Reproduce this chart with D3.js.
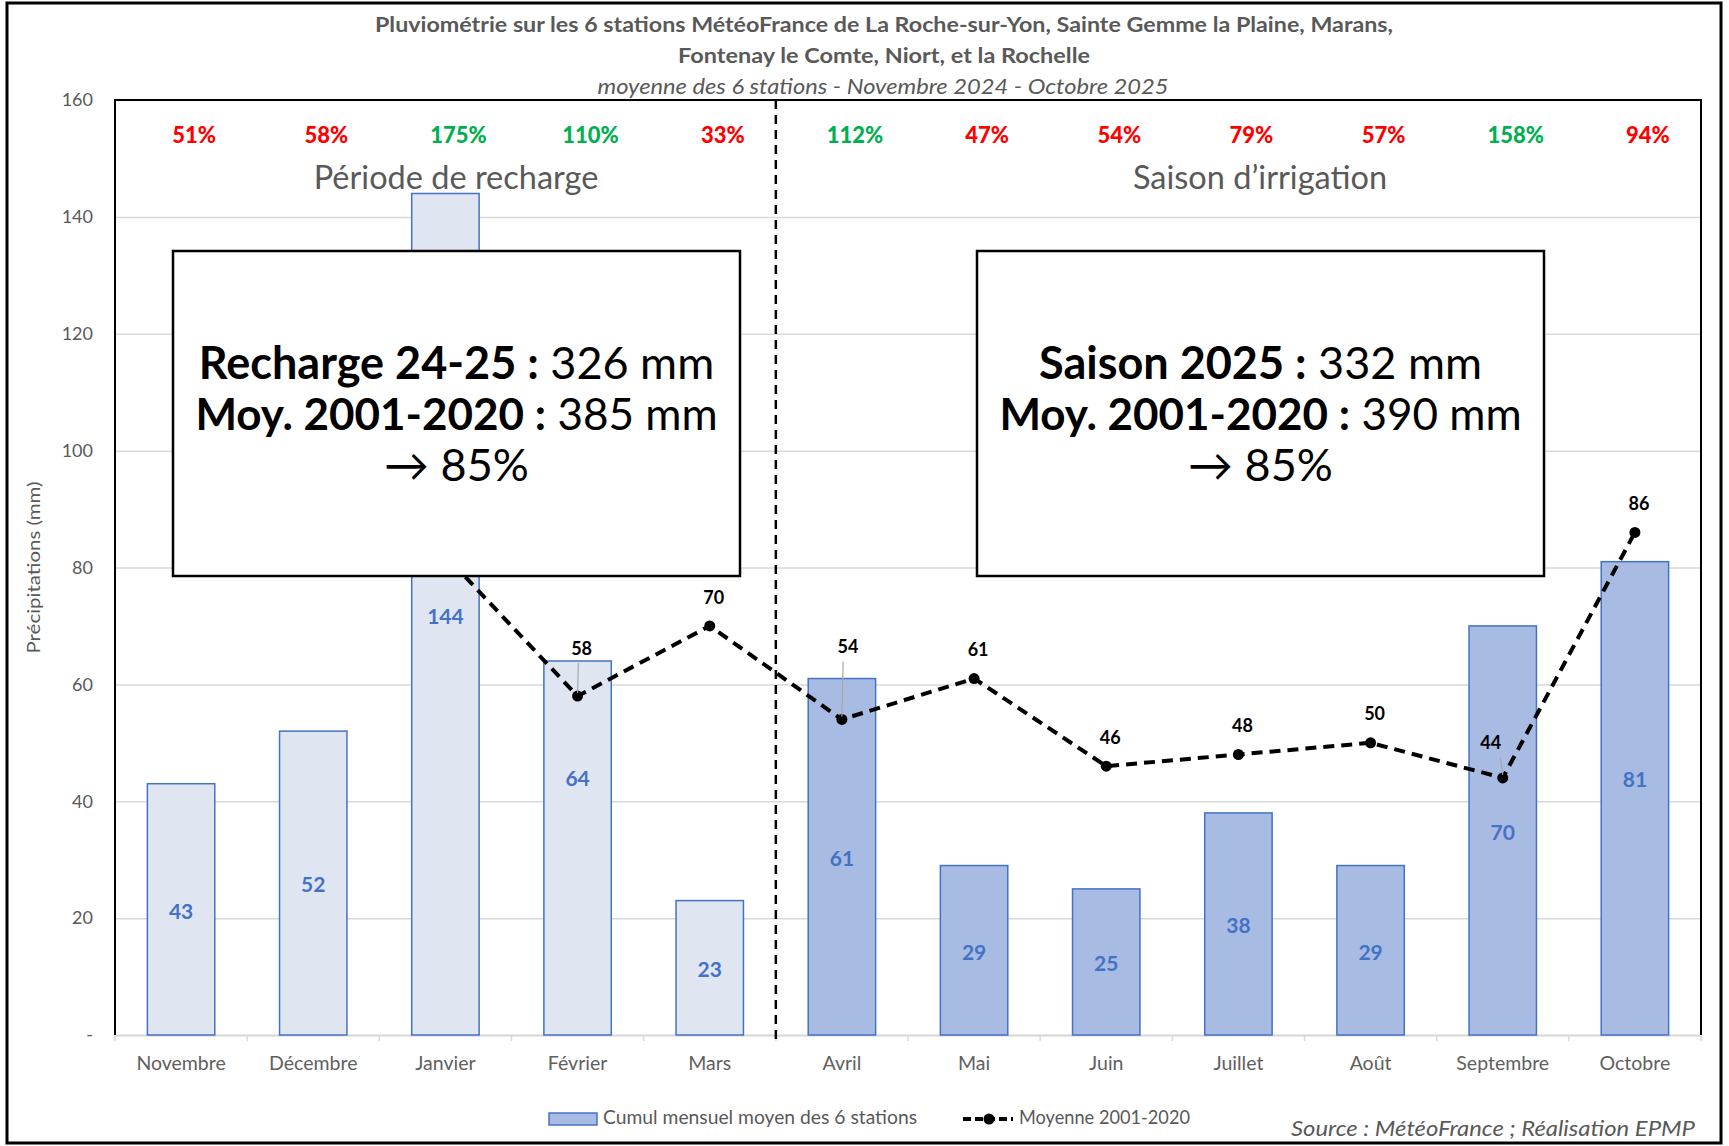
<!DOCTYPE html>
<html>
<head>
<meta charset="utf-8">
<script src="https://cdn.jsdelivr.net/npm/d3@7"></script>
<style>
  body { margin: 0; background: #fff; }
  text { font-family: Lato, 'Open Sans', sans-serif; }
</style>
</head>
<body>
<div id="chart"></div>
<script>
// data
const months = ['Novembre', 'Décembre', 'Janvier', 'Février', 'Mars', 'Avril',
  'Mai', 'Juin', 'Juillet', 'Août', 'Septembre', 'Octobre']
const cumul = [43, 52, 144, 64, 23, 61, 29, 25, 38, 29, 70, 81]
const moyenne = [84, 90, 82, 58, 70, 54, 61, 46, 48, 50, 44, 86]
const percents = ['51%', '58%', '175%', '110%', '33%', '112%', '47%', '54%', '79%', '57%', '158%', '94%']
const rechargeMonths = ['Novembre', 'Décembre', 'Janvier', 'Février', 'Mars']
const yTicks = [0, 20, 40, 60, 80, 100, 120, 140, 160]

const margin = { top: 100, right: 28, bottom: 111, left: 115 }
const width = 1729 - margin.left - margin.right
const height = 1146 - margin.top - margin.bottom

const root = d3
  .select('#chart')
  .append('svg')
  .attr('width', 1729)
  .attr('height', 1146)

// outer frame
root.append('rect')
  .attr('x', 7).attr('y', 3).attr('width', 1714).attr('height', 1140)
  .attr('fill', 'none').attr('stroke', '#000').attr('stroke-width', 3)

const svg = root.append('g')
  .attr('transform', `translate(${margin.left},${margin.top})`)

const xPositionScale = d3.scaleBand().domain(months).range([0, width])
const yPositionScale = d3.scaleLinear().domain([0, 160]).range([height, 0])

const barWidth = xPositionScale.bandwidth() * 0.51
const cx = m => xPositionScale(m) + xPositionScale.bandwidth() / 2

// gridlines + y labels
const yAxis = d3.axisLeft(yPositionScale)
  .tickValues(yTicks)
  .tickSize(-width)
  .tickPadding(22)
  .tickFormat(d => d === 0 ? '-' : d)

svg.append('g')
  .attr('class', 'y-axis')
  .call(yAxis)
  .call(g => g.select('.domain').remove())
  .call(g => g.selectAll('line').attr('stroke', '#d9d9d9').attr('stroke-width', 1.5))
  .call(g => g.selectAll('text')
    .attr('fill', '#595959')
    .attr('font-size', 18))

svg.append('text')
  .attr('transform', `translate(${36 - margin.left},${height / 2}) rotate(-90)`)
  .attr('text-anchor', 'middle')
  .attr('dominant-baseline', 'middle')
  .attr('fill', '#595959')
  .attr('font-size', 17)
  .attr('textLength', 172)
  .attr('lengthAdjust', 'spacingAndGlyphs')
  .text('Précipitations (mm)')

// x axis
const xAxis = d3.axisBottom(xPositionScale).tickSize(0).tickPadding(21)
svg.append('g')
  .attr('transform', `translate(0,${height})`)
  .call(xAxis)
  .call(g => g.select('.domain').attr('stroke', '#d9d9d9').attr('stroke-width', 2))
  .call(g => g.selectAll('text').attr('fill', '#606060').attr('font-size', 19.5))

svg.append('g')
  .selectAll('line')
  .data(d3.range(months.length + 1))
  .enter()
  .append('line')
  .attr('x1', i => i * xPositionScale.step())
  .attr('x2', i => i * xPositionScale.step())
  .attr('y1', height)
  .attr('y2', height + 6)
  .attr('stroke', '#d9d9d9')
  .attr('stroke-width', 1.5)

// plot border (left, top, right)
svg.append('path')
  .attr('d', `M0,${height}V0H${width}V${height}`)
  .attr('fill', 'none')
  .attr('stroke', '#000')
  .attr('stroke-width', 2)

// bars
const isRecharge = m => rechargeMonths.includes(m)
svg.append('g')
  .selectAll('rect')
  .data(months)
  .enter()
  .append('rect')
  .attr('x', m => cx(m) - barWidth / 2)
  .attr('width', barWidth)
  .attr('y', (m, i) => yPositionScale(cumul[i]))
  .attr('height', (m, i) => height - yPositionScale(cumul[i]))
  .attr('fill', m => isRecharge(m) ? '#dfe6f2' : '#a8bbe3')
  .attr('stroke', '#4472c4')
  .attr('stroke-width', 1.5)

// bar labels sit mid-bar, two were moved off the line
const barNudge = { 'Février': -71, 'Octobre': -21 }
svg.append('g')
  .selectAll('text')
  .data(months)
  .enter()
  .append('text')
  .attr('x', m => cx(m))
  .attr('y', (m, i) => (yPositionScale(cumul[i]) + height) / 2 + 4 + (barNudge[m] || 0))
  .attr('text-anchor', 'middle')
  .attr('dominant-baseline', 'middle')
  .attr('fill', '#4472c4')
  .attr('font-size', 21)
  .attr('font-weight', 'bold')
  .text((m, i) => cumul[i])

// separator
svg.append('line')
  .attr('x1', 5 * xPositionScale.step()).attr('x2', 5 * xPositionScale.step())
  .attr('y1', 0).attr('y2', height + 6)
  .attr('stroke', '#000').attr('stroke-width', 2.5)
  .attr('stroke-dasharray', '9,6')

// average line
const line = d3.line()
  .x((d, i) => cx(months[i]))
  .y(d => yPositionScale(d))

svg.append('path')
  .datum(moyenne)
  .attr('d', line)
  .attr('fill', 'none')
  .attr('stroke', '#000')
  .attr('stroke-width', 4)
  .attr('stroke-dasharray', '11,7')

svg.append('g')
  .selectAll('circle')
  .data(moyenne)
  .enter()
  .append('circle')
  .attr('cx', (d, i) => cx(months[i]))
  .attr('cy', d => yPositionScale(d))
  .attr('r', 5.5)
  .attr('fill', '#000')

// label nudges (dx, dy from point), leader line when moved far
const nudge = { 'Février': [4, -46], 'Avril': [6, -71], 'Septembre': [-12, -33] }
const lbl = svg.append('g')
moyenne.forEach((d, i) => {
  const m = months[i]
  const px = cx(m)
  const py = yPositionScale(d)
  const [dx, dy] = nudge[m] || [4, -27]
  if (nudge[m]) {
    lbl.append('line')
      .attr('x1', px + dx * 0.2).attr('y1', py + dy + 13)
      .attr('x2', px).attr('y2', py - 3)
      .attr('stroke', '#a6a6a6').attr('stroke-width', 1.2)
  }
  lbl.append('text')
    .attr('x', px + dx)
    .attr('y', py + dy)
    .attr('text-anchor', 'middle')
    .attr('dominant-baseline', 'middle')
    .attr('font-size', 18)
    .attr('font-weight', 'bold')
    .attr('fill', '#000')
    .text(d)
})

// percentage row
svg.append('g')
  .selectAll('text')
  .data(months)
  .enter()
  .append('text')
  .attr('x', m => cx(m) + 13)
  .attr('y', 37)
  .attr('text-anchor', 'middle')
  .attr('dominant-baseline', 'middle')
  .attr('font-size', 22)
  .attr('font-weight', 900)
  .attr('fill', (m, i) => parseInt(percents[i]) >= 100 ? '#00b050' : '#ff0000')
  .text((m, i) => percents[i])

svg.append('text')
  .attr('x', 341).attr('y', 81)
  .attr('text-anchor', 'middle').attr('dominant-baseline', 'middle')
  .attr('font-size', 32.5).attr('fill', '#595959')
  .text('Période de recharge')

svg.append('text')
  .attr('x', 1145).attr('y', 81)
  .attr('text-anchor', 'middle').attr('dominant-baseline', 'middle')
  .attr('font-size', 32.5).attr('fill', '#595959')
  .text('Saison d’irrigation')

// summary boxes
function summaryBox(x0, x1, head, val, avg) {
  const g = svg.append('g')
  g.append('rect')
    .attr('x', x0).attr('y', 151)
    .attr('width', x1 - x0).attr('height', 325)
    .attr('fill', '#fff').attr('stroke', '#000').attr('stroke-width', 2.5)
  const mid = (x0 + x1) / 2
  const t1 = g.append('text').attr('x', mid).attr('y', 279)
    .attr('text-anchor', 'middle').attr('font-size', 45).attr('fill', '#000')
  t1.append('tspan').attr('font-weight', 'bold').text(head + ' :')
  t1.append('tspan').text(' ' + val + ' mm')
  const t2 = g.append('text').attr('x', mid).attr('y', 330)
    .attr('text-anchor', 'middle').attr('font-size', 44).attr('fill', '#000')
  t2.append('tspan').attr('font-weight', 'bold').text('Moy. 2001-2020 :')
  t2.append('tspan').text(' ' + avg + ' mm')
  g.append('text').attr('x', mid).attr('y', 381)
    .attr('text-anchor', 'middle').attr('font-size', 45).attr('fill', '#000')
    .text('→ 85%')
}
summaryBox(58, 625, 'Recharge 24-25', 326, 385)
summaryBox(862, 1429, 'Saison 2025', 332, 390)

// titles
const title = root.append('g').attr('fill', '#595959')
title.append('text').attr('x', 884).attr('y', 27)
  .attr('text-anchor', 'middle').attr('dominant-baseline', 'middle')
  .attr('font-size', 21).attr('font-weight', 'bold')
  .attr('textLength', 1018).attr('lengthAdjust', 'spacingAndGlyphs')
  .text('Pluviométrie sur les 6 stations MétéoFrance de La Roche-sur-Yon, Sainte Gemme la Plaine, Marans,')
title.append('text').attr('x', 884).attr('y', 58)
  .attr('text-anchor', 'middle').attr('dominant-baseline', 'middle')
  .attr('font-size', 21).attr('font-weight', 'bold')
  .attr('textLength', 412).attr('lengthAdjust', 'spacingAndGlyphs')
  .text('Fontenay le Comte, Niort, et la Rochelle')
title.append('text').attr('x', 883).attr('y', 89)
  .attr('text-anchor', 'middle').attr('dominant-baseline', 'middle')
  .attr('font-size', 21).attr('font-style', 'italic')
  .attr('textLength', 571).attr('lengthAdjust', 'spacingAndGlyphs')
  .text('moyenne des 6 stations - Novembre 2024 - Octobre 2025')

// legend
const legend = root.append('g').attr('transform', 'translate(0,2)')
legend.append('rect')
  .attr('x', 549).attr('y', 1111).attr('width', 48).attr('height', 12)
  .attr('fill', '#a8bbe3').attr('stroke', '#4472c4').attr('stroke-width', 1.5)
legend.append('text').attr('x', 603).attr('y', 1117)
  .attr('dominant-baseline', 'middle').attr('font-size', 18.5).attr('fill', '#595959')
  .attr('textLength', 314).attr('lengthAdjust', 'spacingAndGlyphs')
  .text('Cumul mensuel moyen des 6 stations')
legend.append('line')
  .attr('x1', 963).attr('x2', 1013).attr('y1', 1117).attr('y2', 1117)
  .attr('stroke', '#000').attr('stroke-width', 4).attr('stroke-dasharray', '8,4')
legend.append('circle').attr('cx', 989).attr('cy', 1117).attr('r', 5.5).attr('fill', '#000')
legend.append('text').attr('x', 1019).attr('y', 1117)
  .attr('dominant-baseline', 'middle').attr('font-size', 18.5).attr('fill', '#595959')
  .attr('textLength', 171).attr('lengthAdjust', 'spacingAndGlyphs')
  .text('Moyenne 2001-2020')

root.append('text')
  .attr('x', 1695).attr('y', 1130)
  .attr('text-anchor', 'end').attr('dominant-baseline', 'middle')
  .attr('font-size', 22).attr('font-style', 'italic').attr('fill', '#595959')
  .attr('textLength', 404).attr('lengthAdjust', 'spacingAndGlyphs')
  .text('Source : MétéoFrance ; Réalisation EPMP')
</script>
</body>
</html>
